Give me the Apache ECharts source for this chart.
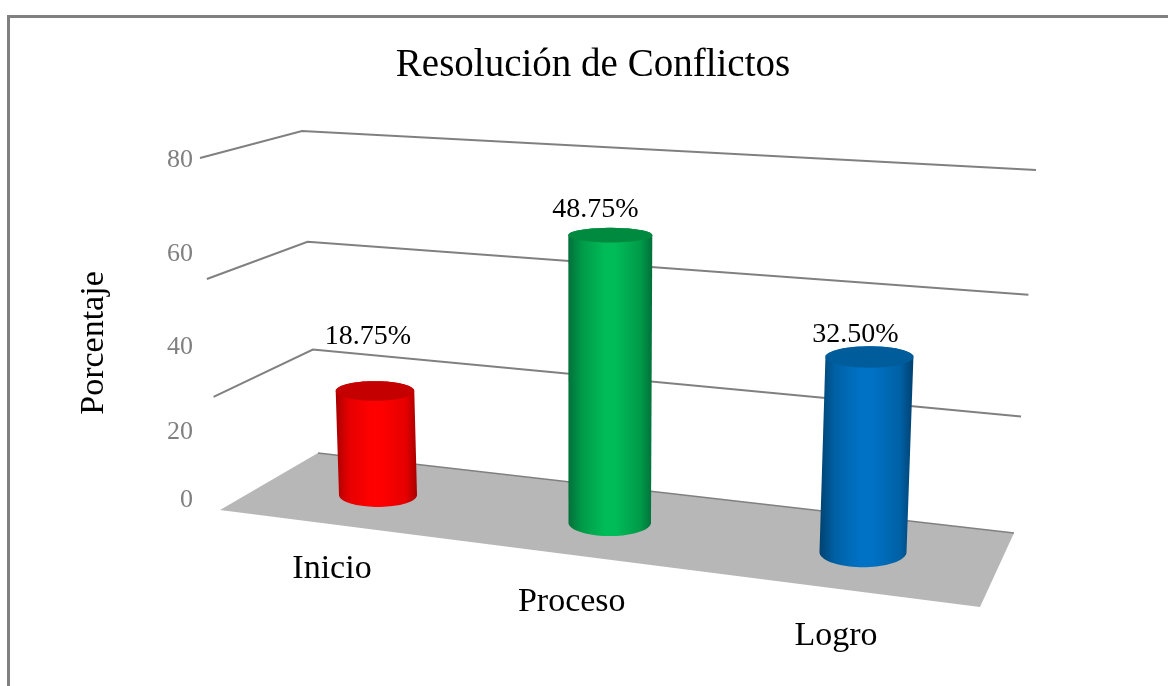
<!DOCTYPE html>
<html>
<head>
<meta charset="utf-8">
<title>Resolución de Conflictos</title>
<script src="https://cdn.jsdelivr.net/npm/echarts@6/dist/echarts.min.js"></script>
<style>
html, body { margin: 0; padding: 0; background: #fff; }
#chartContainer { width: 1168px; height: 686px; }
</style>
</head>
<body>
<div id="chartContainer"></div>
<script>
'use strict';
// data
const categories = ['Inicio', 'Proceso', 'Logro'];
const percentages = [18.75, 48.75, 32.5];
const yTicks = [0, 20, 40, 60, 80];
const wallLevels = [25.7, 52.5, 80];

// look
const FONT = '"Liberation Serif", "Times New Roman", serif';
const bodyColors = [
    ['#a80000', '#e60000', '#ff0000', '#ff0000', '#e60000', '#a80000'],
    ['#00703a', '#009a48', '#00bc58', '#00bc58', '#009a48', '#00703a'],
    ['#00426f', '#0060a4', '#0072c6', '#0072c6', '#0060a4', '#004070']
];
const capColors = ['#c40000', '#008a40', '#005c9a'];
// the tick labels of the picture do not sit evenly on the axis
const tickShift = { 0: 2, 20: 19, 40: 19, 60: 11, 80: 2 };
const valueLabelShift = [[-7, -54], [-15, -25], [-14, -22]];
const nameLabelShift = [[-46, 74], [-38, 80], [-27, 84]];

// perspective of the scene, corners
const wallFrontLeft = { base: [220, 510], top: [200, 158] };
const wallBackLeft = { base: [318, 453], top: [302, 131] };
const wallBackRight = { base: [1014, 533], top: [1036, 170] };
const floorFrontRight = [980, 607];
const barFirst = { x: 378, y: 495, unit: 5.445, lean: -0.029 };
const barLast = { x: 863, y: 552, unit: 5.811, lean: 0.033 };
const Y_MAX = 80;

function mix(a, b, t) {
    return a + (b - a) * t;
}
function wallPoint(edge, level) {
    let t = level / Y_MAX;
    return [mix(edge.base[0], edge.top[0], t), mix(edge.base[1], edge.top[1], t)];
}
// pixel on the grid -> category position u (0..1) and axis value
function fromGrid(params, pt) {
    let cs = params.coordSys;
    return {
        u: (pt[0] - (cs.x + cs.width / 6)) / (cs.width * 2 / 3),
        value: (cs.y + cs.height - pt[1]) / cs.height * Y_MAX
    };
}
function barPoint(u, value) {
    let wx = 0.915, wy = 0.937;
    let x = ((1 - u) * barFirst.x + u * wx * barLast.x) / (1 - u + u * wx);
    let y = ((1 - u) * barFirst.y + u * wy * barLast.y) / (1 - u + u * wy);
    let unit = ((1 - u) * barFirst.unit + u * wy * barLast.unit) / (1 - u + u * wy);
    let h = unit * value * (1 + 0.001 * value);
    return [x + h * mix(barFirst.lean, barLast.lean, u), y - h];
}
function ellipse(c, rx, ry, from, to) {
    let pts = [];
    for (let i = 0; i <= 40; i++) {
        let a = mix(from, to, i / 40);
        pts.push([c[0] + rx * Math.cos(a), c[1] + ry * Math.sin(a)]);
    }
    return pts;
}
function radii(u, y) {
    return [mix(39, 43.5, u), (7.5 + (y - 234) * 0.022) * (0.9 + 0.15 * u)];
}

function renderWall(params, api) {
    let level = fromGrid(params, api.coord([0, api.value(0)])).value;
    return {
        type: 'polyline',
        shape: { points: [wallPoint(wallFrontLeft, level), wallPoint(wallBackLeft, level), wallPoint(wallBackRight, level)] },
        style: { stroke: '#808080', lineWidth: 2, fill: null }
    };
}
function renderFloor(params, api) {
    let level = fromGrid(params, api.coord([0, api.value(0)])).value;
    let backLeft = wallPoint(wallBackLeft, level);
    let backRight = wallPoint(wallBackRight, level);
    return {
        type: 'group',
        children: [{
            type: 'polygon',
            shape: { points: [wallPoint(wallFrontLeft, level), backLeft, backRight, floorFrontRight] },
            style: { fill: '#b7b7b7' }
        }, {
            type: 'polyline',
            shape: { points: [backLeft, backRight] },
            style: { stroke: '#808080', lineWidth: 1.5, fill: null }
        }]
    };
}
function renderBar(params, api) {
    let i = params.dataIndex;
    let baseGrid = fromGrid(params, api.coord([i, 0]));
    let topGrid = fromGrid(params, api.coord([i, api.value(1)]));
    let bottom = barPoint(baseGrid.u, 0);
    let top = barPoint(topGrid.u, topGrid.value);
    let rb = radii(baseGrid.u, bottom[1]);
    let rt = radii(topGrid.u, top[1]);
    rt[0] += 0.03 * topGrid.value / 2;
    let stops = [0, 0.16, 0.44, 0.56, 0.86, 1].map(function (offset, k) {
        return { offset: offset, color: bodyColors[i][k] };
    });
    return {
        type: 'group',
        children: [{
            type: 'polygon',
            shape: { points: ellipse(bottom, rb[0], rb[1], Math.PI, 0).concat(ellipse(top, rt[0], rt[1], 0, -Math.PI)) },
            style: { fill: { type: 'linear', x: 0, y: 0, x2: 1, y2: 0, colorStops: stops } }
        }, {
            type: 'polygon',
            shape: { points: ellipse(top, rt[0], rt[1], 0, Math.PI * 2) },
            style: { fill: capColors[i] }
        }]
    };
}
function renderLabels(params, api) {
    let i = params.dataIndex;
    let baseGrid = fromGrid(params, api.coord([i, 0]));
    let topGrid = fromGrid(params, api.coord([i, api.value(1)]));
    let bottom = barPoint(baseGrid.u, 0);
    let top = barPoint(topGrid.u, topGrid.value);
    return {
        type: 'group',
        children: [{
            type: 'text',
            style: {
                x: top[0] + valueLabelShift[i][0],
                y: top[1] + valueLabelShift[i][1],
                text: api.value(1).toFixed(2) + '%',
                fill: '#000',
                font: '28px ' + FONT,
                textAlign: 'center',
                textVerticalAlign: 'middle'
            }
        }, {
            type: 'text',
            style: {
                x: bottom[0] + nameLabelShift[i][0],
                y: bottom[1] + nameLabelShift[i][1],
                text: categories[i],
                fill: '#000',
                font: '34px ' + FONT,
                textAlign: 'center',
                textVerticalAlign: 'middle'
            }
        }]
    };
}

let tickRich = {};
yTicks.forEach(function (t) {
    tickRich['t' + t] = {
        fontFamily: FONT,
        fontSize: 26,
        color: '#808080',
        padding: [tickShift[t] * 2, 0, 0, 0]
    };
});

let demoChart = echarts.init(document.getElementById('chartContainer'), null, { renderer: 'canvas' });
let rows = categories.map(function (c, i) {
    return [i, percentages[i]];
});
let option = {
    backgroundColor: '#fff',
    animation: false,
    title: {
        text: 'Resolución de Conflictos',
        left: 588,
        top: 41,
        textAlign: 'center',
        textStyle: { fontFamily: FONT, fontWeight: 'normal', fontSize: 39, color: '#000' }
    },
    graphic: [{
        type: 'polyline',
        shape: { points: [[8.5, 686], [8.5, 16.5], [1168, 16.5]] },
        style: { stroke: '#808080', lineWidth: 3, fill: null }
    }],
    grid: { left: 197, top: 158, right: 153, bottom: 188 },
    xAxis: {
        type: 'category',
        data: categories,
        axisLine: { show: false },
        axisTick: { show: false },
        axisLabel: { show: false }
    },
    yAxis: {
        type: 'value',
        min: yTicks[0],
        max: Y_MAX,
        interval: 20,
        name: 'Porcentaje',
        nameLocation: 'middle',
        nameGap: 86,
        nameRotate: 90,
        nameTextStyle: { fontFamily: FONT, fontSize: 34, color: '#000', padding: [0, 30, 0, 0] },
        axisLine: { show: false },
        axisTick: { show: false },
        splitLine: { show: false },
        axisLabel: {
            margin: 4,
            formatter: function (v) {
                return '{t' + v + '|' + v + '}';
            },
            rich: tickRich
        }
    },
    series: [{
        type: 'custom',
        name: 'pared',
        data: wallLevels.map(function (l) { return [l]; }),
        encode: { y: 0 },
        renderItem: renderWall,
        silent: true,
        z: 1
    }, {
        type: 'custom',
        name: 'piso',
        data: [[0]],
        encode: { y: 0 },
        renderItem: renderFloor,
        silent: true,
        z: 2
    }, {
        type: 'custom',
        name: 'Porcentaje',
        data: rows,
        encode: { x: 0, y: 1 },
        renderItem: renderBar,
        z: 3
    }, {
        type: 'custom',
        name: 'etiquetas',
        data: rows,
        encode: { x: 0, y: 1 },
        renderItem: renderLabels,
        silent: true,
        z: 4
    }]
};

demoChart.setOption(option);
</script>
</body>
</html>
